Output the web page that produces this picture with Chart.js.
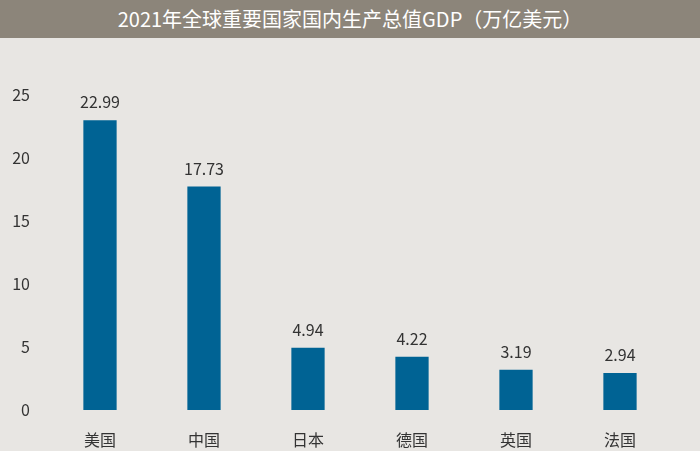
<!DOCTYPE html>
<html><head><meta charset="utf-8">
<script src="https://cdn.jsdelivr.net/npm/chart.js@4"></script>
<style>
html,body{margin:0;padding:0;width:700px;height:451px;overflow:hidden;background:#e8e6e3;font-family:"Noto Sans CJK SC","Noto Sans",sans-serif}
#title{height:38px;background:#8c857a;color:#fff;font-size:20px;line-height:38px;text-align:center}
#wrap{position:relative;width:700px;height:413px}
</style></head><body>
<div id="title">2021年全球重要国家国内生产总值GDP（万亿美元）</div>
<div id="wrap"><canvas id="c"></canvas></div>
<script>
const categories=["美国","中国","日本","德国","英国","法国"];
const gdpValues=[22.99,17.73,4.94,4.22,3.19,2.94];
const valueLabels=["22.99","17.73","4.94","4.22","3.19","2.94"];
const font='"Noto Sans CJK SC","Noto Sans",sans-serif';
const labelPlugin={id:'vl',afterDatasetsDraw(ch){const ctx=ch.ctx;const m=ch.getDatasetMeta(0);ctx.save();ctx.fillStyle='#333';ctx.font='16px '+font;ctx.textAlign='center';ctx.textBaseline='bottom';m.data.forEach((b,i)=>ctx.fillText(valueLabels[i],b.x,b.y-10));ctx.restore();}};
new Chart(document.getElementById('c'),{type:'bar',
data:{labels:categories,datasets:[{data:gdpValues,backgroundColor:'#006394',barPercentage:0.32,categoryPercentage:1}]},
options:{responsive:true,maintainAspectRatio:false,animation:false,
layout:{padding:{left:8,right:28,top:57,bottom:0}},
plugins:{legend:{display:false},tooltip:{enabled:false}},
scales:{
x:{grid:{display:false},border:{display:false},ticks:{color:'#333',font:{family:font,size:16},padding:12},afterFit:s=>{s.height=41;}},
y:{min:0,max:25,grid:{display:false},border:{display:false},ticks:{stepSize:5,color:'#333',font:{family:font,size:16},padding:10},afterFit:s=>{s.width=40;}}
}},
plugins:[labelPlugin]});
</script></body></html>
